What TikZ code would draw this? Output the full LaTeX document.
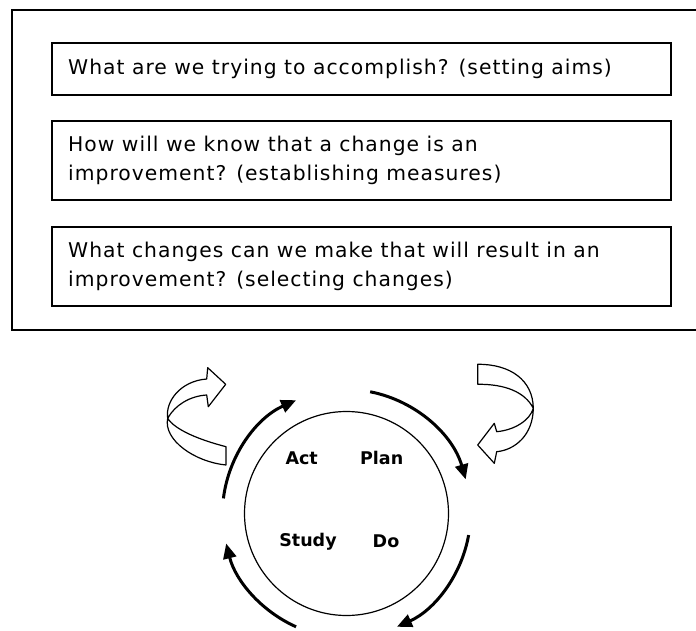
\documentclass[tikz,border=0pt]{standalone}
\usepackage{fontspec}
\setmainfont{DejaVu Sans}
\usetikzlibrary{arrows.meta}
\begin{document}
\begin{tikzpicture}[x=1pt,y=1pt,
  frame/.style={line width=2pt},
  qbox/.style={draw, line width=1.8pt, inner sep=0pt, anchor=north west, minimum width=619pt},
  qtext/.style={anchor=west, align=left, inner sep=0pt, font=\fontsize{20.3}{29}\selectfont\addfontfeature{LetterSpace=5}},
  pdsa/.style={inner sep=0pt, font=\fontsize{17.5}{20}\selectfont\bfseries},
  cyclearrow/.style={line width=3pt, -{Triangle[length=15pt,width=13pt]}},
  curl/.style={draw, line width=1.2pt, fill=white, line join=round}]
\useasboundingbox (0,0) rectangle (696,630);
\fill[white] (0,0) rectangle (696,630);

% outer frame, open past the right edge
\begin{scope}
  \clip (0,0) rectangle (696,630);
  \draw[frame] (710,620) -- (12,620) -- (12,300) -- (710,300);
\end{scope}

% the three questions
\node[qbox, minimum height=52pt] (aimbox) at (51,588) {};
\node[qtext] (aimtext) at ([xshift=17pt]aimbox.west) {What are we trying to accomplish? (setting aims)};

\node[qbox, minimum height=79pt] (measbox) at (51,510) {};
\node[qtext] (meastext) at ([xshift=17pt]measbox.west) {How will we know that a change is an\\improvement? (establishing measures)};

\node[qbox, minimum height=79pt] (chgbox) at (51,404) {};
\node[qtext] (chgtext) at ([xshift=17pt]chgbox.west) {What changes can we make that will result in an\\improvement? (selecting changes)};

% PDSA cycle
\node[draw, circle, line width=1.2pt, minimum size=204pt, inner sep=0pt] (cyc) at (346.5,116.5) {};
\node[pdsa] (act) at (301.7,172) {Act};
\node[pdsa] (plan) at (381.7,172) {Plan};
\node[pdsa] (study) at (308,88.3) {Study};
\node[pdsa] (do) at (386,88.3) {Do};

\draw[cyclearrow] ([shift={(79:124)}]cyc.center) arc[start angle=79, end angle=16, radius=124pt];
\draw[cyclearrow] ([shift={(-10:124)}]cyc.center) arc[start angle=-10, end angle=-66, radius=124pt];
\draw[cyclearrow] ([shift={(-114:124)}]cyc.center) arc[start angle=-114, end angle=-166, radius=124pt];
\draw[cyclearrow] ([shift={(173:124)}]cyc.center) arc[start angle=173, end angle=114, radius=124pt];

% twisted hollow arrows
\draw[curl] (226,183.3) .. controls (200,190) and (175,200) .. (167.7,211.7)
  .. controls (165,228) and (180,249) .. (206.7,251)
  -- (207.7,262.3) -- (225.7,245.7) -- (208.3,223.3) -- (206.7,235)
  .. controls (190,234) and (175,225) .. (167.7,211.7)
  .. controls (163,190) and (195,168) .. (226,165) -- cycle;

\draw[curl] (477.7,265.7) .. controls (510,266) and (533,250) .. (533.3,221.7)
  .. controls (533,195) and (515,180) .. (496.7,178.3)
  -- (494.3,166.7) -- (477.7,185) -- (494.3,206.7) -- (496.7,198.3)
  .. controls (515,200) and (530,210) .. (533.3,221.7)
  .. controls (525,238) and (505,246) .. (477.7,245.7) -- cycle;
\end{tikzpicture}
\end{document}
